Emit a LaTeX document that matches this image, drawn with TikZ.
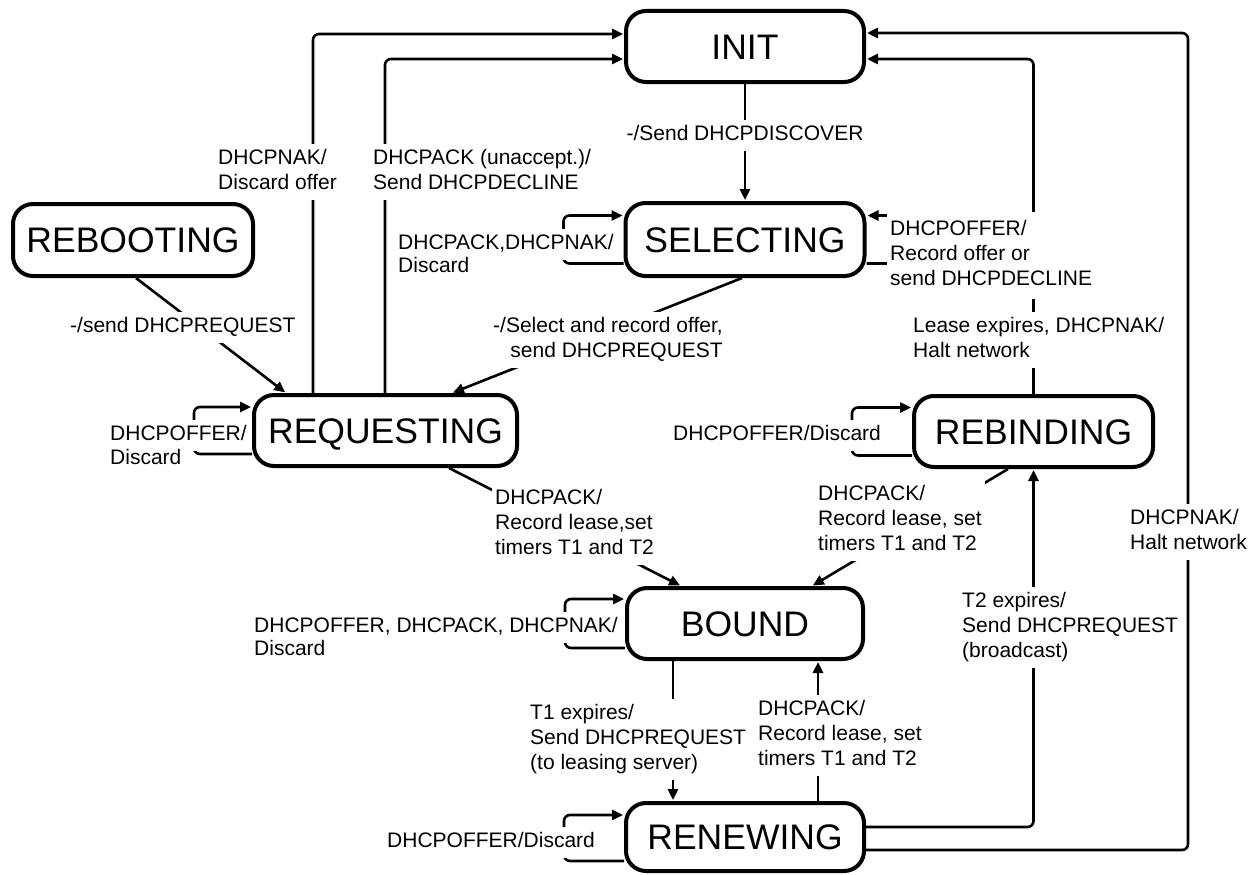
\documentclass[tikz,border=0pt]{standalone}
\usepackage{fontspec}
\setmainfont{Liberation Sans}
\usepackage{graphicx}
\usetikzlibrary{arrows.meta}
\newcommand\labfont{\fontsize{21}{25}\selectfont}
\newcommand\statefont{\fontsize{35.5}{40}\selectfont}
\newcommand\mlL[1]{\begin{tabular}{@{}l@{}}#1\end{tabular}}
\newcommand\mlR[1]{\begin{tabular}{@{}r@{}}#1\end{tabular}}
\begin{document}
\begin{tikzpicture}[x=1pt,y=-1pt,
  state/.style={draw, line width=4pt, rounded corners=20pt, fill=white, font=\statefont, text height=25.4pt, text depth=0pt, inner sep=0pt},
  arr/.style={line width=2.6pt, rounded corners=6pt, -{Triangle[length=11pt,width=10pt]}, shorten >=1pt},
  lab/.style={fill=white, inner xsep=3pt, inner ysep=3pt, font=\labfont},
]
\useasboundingbox (0,0) rectangle (1255,875);
% states
\node[state, minimum width=238pt, minimum height=71pt] (init) at (745,46.5) {INIT};
\node[state, minimum width=239pt, minimum height=73pt] (sel) at (745,239.5) {SELECTING};
\node[state, minimum width=240pt, minimum height=72pt] (reboot) at (133,240) {REBOOTING};
\node[state, minimum width=263pt, minimum height=71pt] (req) at (385.5,430.5) {REQUESTING};
\node[state, minimum width=239pt, minimum height=71pt] (rebind) at (1033.5,431.5) {REBINDING};
\node[state, minimum width=236pt, minimum height=71pt] (bound) at (745,623.5) {BOUND};
\node[state, minimum width=238pt, minimum height=68pt] (renew) at (745,837) {RENEWING};
\coordinate (rx) at (1188,0);
\coordinate (itop) at ([yshift=13.5pt]init.east);
% connectors
\draw[arr] ([xshift=-72.5pt]req.north) |- ([yshift=12.5pt]init.west);
\draw[arr] ([xshift=-0.5pt]req.north) |- ([yshift=-12.5pt]init.west);
\draw[arr] (init.south) -- (sel.north);
\draw[arr] ([yshift=-24pt]sel.west) -- ++(-60,0) |- ([yshift=24pt]sel.west);
\draw[arr] ([yshift=-24pt]sel.east) -- ++(35,0) |- ([yshift=24pt]sel.east);
\draw[arr] ([xshift=3pt]reboot.south) -- ([xshift=-99.5pt]req.north);
\draw[arr] ([xshift=-3pt]sel.south) -- ([xshift=66.5pt]req.north);
\draw[arr] ([yshift=-23.5pt]req.west) -- ++(-58,0) |- ([yshift=23.5pt]req.west);
\draw[arr] ([yshift=-24pt]rebind.west) -- ++(-60,0) |- ([yshift=24pt]rebind.west);
\draw[arr] ([xshift=63.5pt]req.south) -- ([xshift=-64pt]bound.north);
\draw[arr] ([xshift=-25.5pt]rebind.south) -- ([xshift=67pt]bound.north);
\draw[arr] (rebind.north) |- ([yshift=-12.5pt]init.east);
\draw[arr] ([yshift=-24.5pt]bound.west) -- ++(-60,0) |- ([yshift=24.5pt]bound.west);
\draw[arr] ([xshift=-72pt]bound.south) -- ([xshift=-72pt]renew.north);
\draw[arr] ([xshift=73pt]renew.north) -- ([xshift=73pt]bound.south);
\draw[arr] ([yshift=-24pt]renew.west) -- ++(-60,0) |- ([yshift=22pt]renew.west);
\draw[arr] ([yshift=10pt]renew.east) -| (rebind.south);
\draw[arr] ([yshift=-13pt]renew.east) -| (itop -| rx) -- (itop);
% labels
\node[lab, anchor=north west] (la) at (215,144) {\mlL{DHCPNAK/\\Discard offer}};
\node[lab, anchor=north west] (lb) at (370,144) {\mlL{DHCPACK (unaccept.)/\\Send DHCPDECLINE}};
\node[lab, anchor=north] (lc) at (745,120) {\mlL{-/Send DHCPDISCOVER}};
\node[lab, anchor=north west] (ld1) at (395,229) {\mlL{DHCPACK,DHCPNAK/}};
\node[lab, anchor=north west] (ld2) at (395,252) {\mlL{Discard}};
\node[lab, anchor=north west, inner ysep=6pt] (le) at (887,212) {\mlL{DHCPOFFER/\\Record offer or\\send DHCPDECLINE}};
\node[lab, anchor=north west] (lf) at (67,312) {\mlL{-/send DHCPREQUEST}};
\node[lab, anchor=north east] (lg) at (726,312) {\mlR{-/Select and record offer,\\send DHCPREQUEST}};
\node[lab, anchor=north west] (lh) at (910,312) {\mlL{Lease expires, DHCPNAK/\\Halt network}};
\node[lab, anchor=north west] (li1) at (107,420) {\mlL{DHCPOFFER/}};
\node[lab, anchor=north west] (li2) at (107,444) {\mlL{Discard}};
\node[lab, anchor=north west] (lj) at (670,420) {\mlL{DHCPOFFER/Discard}};
\node[lab, anchor=north west] (lk) at (492,484) {\mlL{DHCPACK/\\Record lease,set\\timers T1 and T2}};
\node[lab, anchor=north west] (ll) at (815,480) {\mlL{DHCPACK/\\Record lease, set\\timers T1 and T2}};
\node[lab, anchor=north west] (lm) at (1127,504) {\mlL{DHCPNAK/\\Halt network}};
\node[lab, anchor=north west] (ln1) at (251,612) {\mlL{DHCPOFFER, DHCPACK, DHCPNAK/}};
\node[lab, anchor=north west] (ln2) at (251,635) {\mlL{Discard}};
\node[lab, anchor=north west] (lo) at (959,587) {\mlL{T2 expires/\\Send DHCPREQUEST\\(broadcast)}};
\node[lab, anchor=north west] (lp) at (527,699) {\mlL{T1 expires/\\Send DHCPREQUEST\\(to leasing server)}};
\node[lab, anchor=north west] (lq) at (755,695) {\mlL{DHCPACK/\\Record lease, set\\timers T1 and T2}};
\node[lab, anchor=north west] (lr) at (384,827) {\mlL{DHCPOFFER/Discard}};
\end{tikzpicture}
\end{document}
